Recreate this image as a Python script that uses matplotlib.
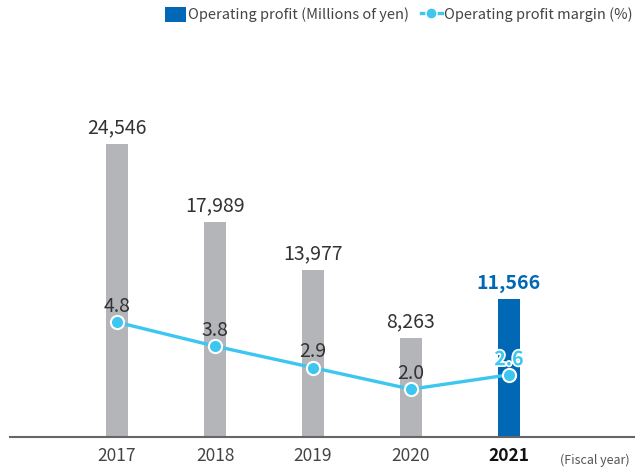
import matplotlib
matplotlib.use("Agg")
import matplotlib.pyplot as plt
import matplotlib.patheffects as pe
from matplotlib.patches import Patch
from matplotlib.lines import Line2D

plt.rcParams['font.family'] = ['Noto Sans CJK JP', 'DejaVu Sans']

years = ["2017", "2018", "2019", "2020", "2021"]
profit = [24546, 17989, 13977, 8263, 11566]
margin = [4.8, 3.8, 2.9, 2.0, 2.6]
profit_labels = ["24,546", "17,989", "13,977", "8,263", "11,566"]
margin_labels = ["4.8", "3.8", "2.9", "2.0", "2.6"]

GRAY = "#b3b5b8"
BLUE = "#0068b5"
CYAN = "#3cc6f0"
TXT = "#333333"

W, H = 635, 467
fig = plt.figure(figsize=(W/100, H/100), dpi=100)
ax = fig.add_axes([10/W, (H-437)/H, 625/W, 397/H])
x = list(range(len(years)))
colors = [GRAY]*4 + [BLUE]
ax.bar(x, profit, width=0.225, color=colors, zorder=2)
ax.set_xlim(-1.092, 5.286)
ax.set_ylim(0, 33250)
for s in ["top", "right", "left"]:
    ax.spines[s].set_visible(False)
ax.spines["bottom"].set_color("#666666")
ax.spines["bottom"].set_linewidth(1.5)
ax.spines["bottom"].set_zorder(5)
ax.set_yticks([])
ax.set_xticks(x)
ax.set_xticklabels(years, fontsize=12.5, color="#444444")
ax.tick_params(axis='x', length=0, pad=7)
ax.get_xticklabels()[-1].set_fontweight('bold')
ax.get_xticklabels()[-1].set_color("#111111")

for i, (v, lab) in enumerate(zip(profit, profit_labels)):
    last = i == len(profit) - 1
    ax.annotate(lab, (i, v), xytext=(0, 4), textcoords='offset points',
                ha='center', va='bottom', fontsize=14,
                color=BLUE if last else TXT,
                fontweight='bold' if last else 'normal')

ax2 = ax.twinx()
ax2.set_ylim(0, 16.6)
ax2.axis('off')
ax2.plot(x, margin, color=CYAN, lw=2.4, marker='o', ms=9.5,
         mfc=CYAN, mec='white', mew=1.5, zorder=4)
for i, (v, lab) in enumerate(zip(margin, margin_labels)):
    last = i == len(margin) - 1
    t = ax2.annotate(lab, (i, v), xytext=(0, 4), textcoords='offset points',
                     ha='center', va='bottom', fontsize=14,
                     color=CYAN if last else TXT,
                     fontweight='bold' if last else 'normal')
    if last:
        t.set_path_effects([pe.withStroke(linewidth=2.5, foreground='white')])

fig.text(630/W, (H-460)/H, "(Fiscal year)", fontsize=9, color="#555555",
         ha='right', va='center')

handles = [Patch(facecolor=BLUE, edgecolor='none'),
           Line2D([0], [0], color=CYAN, lw=2.4, marker='o', ms=8,
                  mfc=CYAN, mec='white', mew=1)]
fig.legend(handles, ["Operating profit (Millions of yen)", "Operating profit margin (%)"],
           loc='upper right', bbox_to_anchor=(636/W, 1 - 4/H), ncol=2, frameon=False,
           fontsize=10.5, handlelength=1.4, handleheight=1.2, handletextpad=0.2,
           columnspacing=0.8, labelcolor="#444444", borderaxespad=0, borderpad=0.2)

fig.savefig("out.png", dpi=100)
